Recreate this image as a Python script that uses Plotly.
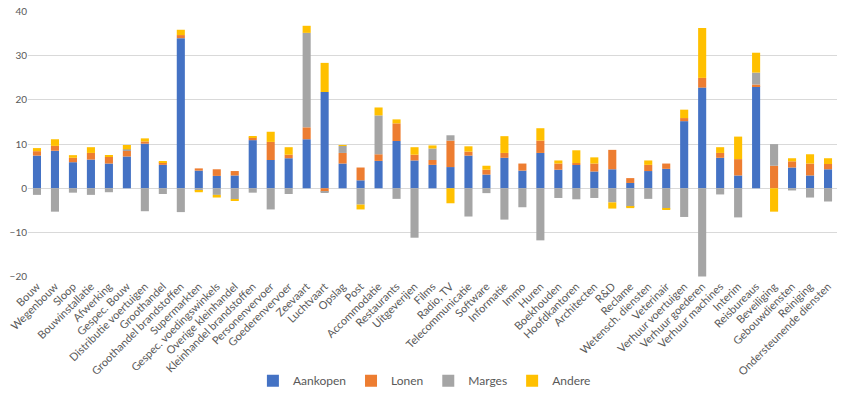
import plotly.graph_objects as go

categories = ["Bouw", "Wegenbouw", "Sloop", "Bouwinstallatie", "Afwerking", "Gespec. Bouw",
              "Distributie voertuigen", "Groothandel", "Groothandel brandstoffen", "Supermarkten",
              "Gespec. voedingswinkels", "Overige kleinhandel", "Kleinhandel brandstoffen",
              "Personenvervoer", "Goederenvervoer", "Zeevaart", "Luchtvaart", "Opslag", "Post",
              "Accommodatie", "Restaurants", "Uitgeverijen", "Films", "Radio, TV",
              "Telecommunicatie", "Software", "Informatie", "Immo", "Huren", "Boekhouden",
              "Hoofdkantoren", "Architecten", "R&D", "Reclame", "Wetensch. diensten", "Veterinair",
              "Verhuur voertuigen", "Verhuur goederen", "Verhuur machines", "Interim", "Reisbureaus",
              "Beveiliging", "Gebouwdiensten", "Reiniging", "Ondersteunende diensten"]

aankopen = [7.4, 8.5, 5.9, 6.5, 5.6, 7.2, 10.1, 5.3, 34.0, 4.0,
            2.8, 2.9, 10.9, 6.4, 6.8, 11.1, 21.8, 5.6, 1.8, 6.2,
            10.7, 6.3, 5.3, 4.8, 7.4, 3.1, 6.9, 4.0, 8.0, 4.2,
            5.3, 3.8, 4.3, 1.2, 3.9, 4.4, 15.2, 22.8, 6.9, 2.9,
            23.1, 0.0, 4.7, 2.9, 4.3]
lonen = [1.0, 1.1, 1.0, 1.5, 1.5, 1.3, 0.5, 0.6, 0.7, 0.5,
         1.5, 1.0, 0.6, 4.1, 0.8, 2.7, -0.8, 2.4, 2.9, 1.5,
         4.0, 1.3, 1.1, 6.0, 0.9, 1.1, 1.1, 1.6, 2.8, 1.4,
         0.4, 1.8, 4.4, 1.1, 1.4, 1.2, 0.7, 2.2, 1.1, 3.7,
         0.4, 5.1, 1.4, 2.7, 1.2]
marges = [-1.5, -5.3, -1.0, -1.5, -0.9, 0.3, -5.2, -1.3, -5.4, -0.6,
          -1.5, -2.5, -1.0, -4.8, -1.3, 21.4, -0.2, 1.6, -3.7, 8.8,
          -2.4, -11.2, 2.6, 1.2, -6.4, -1.1, -7.1, -4.3, -11.8, -2.2,
          -2.5, -2.2, -3.2, -4.2, -2.4, -4.6, -6.5, -20.0, -1.4, -6.6,
          2.7, 4.9, -0.5, -2.1, -3.0]
andere = [0.7, 1.5, 0.6, 1.3, 0.3, 1.0, 0.7, 0.2, 1.2, -0.3,
          -0.6, -0.3, 0.2, 2.3, 1.7, 1.6, 6.6, 0.1, -1.1, 1.8,
          0.9, 1.7, 0.7, -3.4, 1.2, 0.9, 3.8, 0.0, 2.8, 0.7,
          2.9, 1.4, -1.4, -0.3, 1.0, -0.2, 1.9, 11.3, 1.3, 5.1,
          4.5, -5.3, 0.7, 2.1, 1.3]

series = [("Aankopen", aankopen, "#4472C4"),
          ("Lonen", lonen, "#ED7D31"),
          ("Marges", marges, "#A5A5A5"),
          ("Andere", andere, "#FFC000")]

fig = go.Figure()
for name, vals, col in series:
    fig.add_trace(go.Bar(x=categories, y=vals, name=name,
                         marker=dict(color=col, line=dict(width=0))))

fig.update_layout(
    barmode="relative",
    bargap=0.55,
    width=848, height=397,
    margin=dict(l=28, r=11, t=11, b=120, autoexpand=False),
    plot_bgcolor="white", paper_bgcolor="white",
    font=dict(family="Lato, Open Sans, sans-serif", color="#595959", size=10),
    legend=dict(orientation="h", x=0.49, xanchor="center", y=-0.39, yanchor="middle",
                font=dict(size=12, color="#595959"), itemwidth=30),
    xaxis=dict(tickangle=-45, tickfont=dict(size=11, color="#595959"), showgrid=False,
               showline=False, ticks="", automargin=False),
    yaxis=dict(range=[-20.1, 40.15], dtick=10, showgrid=True, gridcolor="#D9D9D9", gridwidth=1,
               zeroline=True, zerolinecolor="#D9D9D9", zerolinewidth=1, automargin=False,
               tickfont=dict(size=10, color="#595959"), ticks=""),
)

fig.write_html("out.html", config={"displayModeBar": False},
               post_script="document.body.style.margin='0';")
